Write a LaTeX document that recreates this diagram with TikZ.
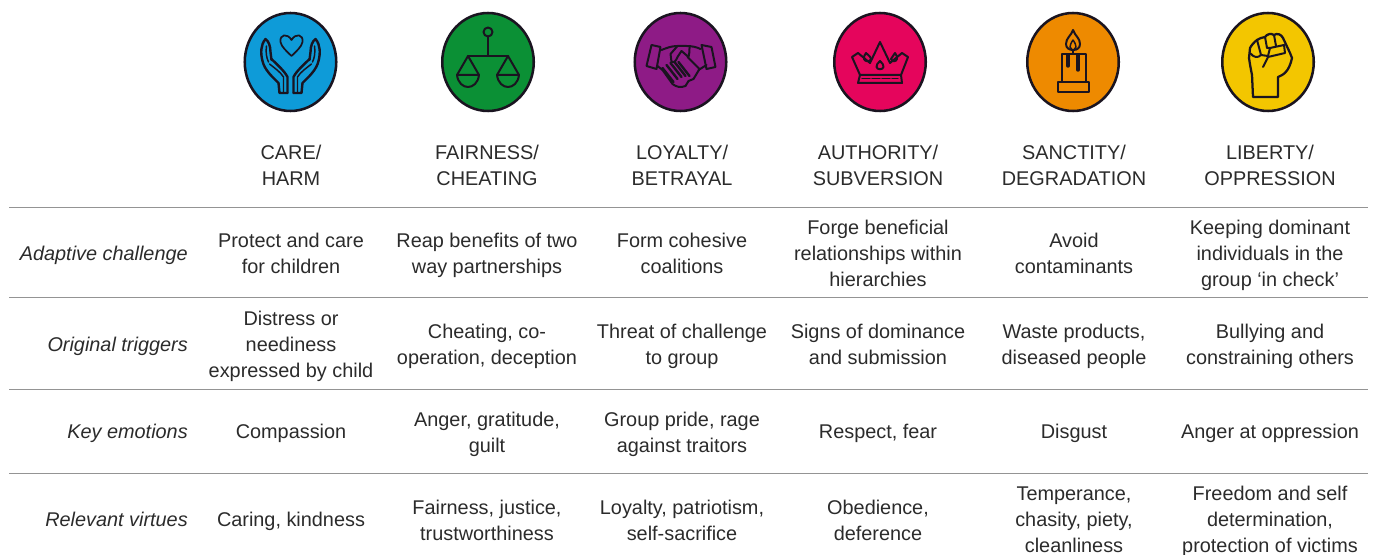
\documentclass[tikz,border=0pt]{standalone}
\usepackage{fontspec}
\setmainfont{Liberation Sans}
\usetikzlibrary{shapes.geometric}
\definecolor{ink}{HTML}{2B2B2B}
\definecolor{rulec}{HTML}{949494}
\definecolor{icon}{HTML}{1A1420}
\definecolor{cblue}{HTML}{0E9BD8}
\definecolor{cgreen}{HTML}{0B9035}
\definecolor{cpurple}{HTML}{8E1B86}
\definecolor{cred}{HTML}{E5055C}
\definecolor{corange}{HTML}{EE8A00}
\definecolor{cyellow}{HTML}{F3C600}
\tikzset{
  badge/.style={ellipse,draw=icon,line width=1.9pt,minimum width=91.5pt*.75,minimum height=98pt*.75,inner sep=0pt},
  ico/.style={draw=icon,line width=1.5pt,line join=round,line cap=round},
  thin ico/.style={draw=icon,line width=1.1pt,line join=round,line cap=round},
  cell/.style={text=ink,align=center,inner sep=0pt,font=\fontsize{14.9}{19.5}\selectfont,yshift=-3pt,
    execute at begin node=\strut,execute at end node=\strut},
  single/.style={cell,yshift=1.5pt},
  rowlab/.style={single,align=right,anchor=east,font=\fontsize{14.9}{19.5}\selectfont\itshape},
  rulel/.style={draw=rulec,line width=1pt}
}
\begin{document}
\begin{tikzpicture}[x=0.75pt,y=-0.75pt]
\useasboundingbox (0,0) rectangle (1376,555);
% badges
\node[badge,fill=cblue]   (b1) at (290.5,62) {};
\node[badge,fill=cgreen]  (b2) at (488,62) {};
\node[badge,fill=cpurple] (b3) at (680.5,62) {};
\node[badge,fill=cred]    (b4) at (880,62) {};
\node[badge,fill=corange] (b5) at (1073,62) {};
\node[badge,fill=cyellow] (b6) at (1268,62) {};
% care
\begin{scope}[shift={(b1.center)}]
\draw[thin ico,line width=1.3pt] (1,-22) .. controls (-3,-29) and (-11,-28) .. (-10,-20) .. controls (-9,-15) and (-4,-11) .. (1,-6) .. controls (6,-11) and (11,-15) .. (12,-20) .. controls (13,-28) and (5,-29) .. (1,-22) -- cycle;
\foreach \s in {1,-1}{
\begin{scope}[xscale=\s]
\draw[ico,line width=1.8pt] (3,31) -- (11,31) -- (12,21) .. controls (18,15) and (26,8) .. (28,-1) .. controls (30,-9) and (30,-17) .. (25,-23) .. controls (22,-21) and (20,-16) .. (20,-10) -- (19,-2);
\draw[ico,line width=1.8pt] (3,31) -- (3,15) .. controls (6,9) and (13,3) .. (19,-3);
\draw[thin ico] (7,31) -- (7,15) .. controls (10,10) and (16,6) .. (21,2);
\draw[thin ico] (24,-16) .. controls (25,-10) and (24,-4) .. (22,0);
\end{scope}}
\end{scope}
% fairness
\begin{scope}[shift={(b2.center)}]
\draw[ico] (0,-30) circle[radius=4.5];
\draw[ico] (0,-25.5) -- (0,-6);
\draw[ico] (-20,-6) -- (20,-6);
\foreach \c in {-20,20}{
\draw[ico] (\c-11,13) -- (\c,-6) -- (\c+11,13);
\draw[ico] (\c-11,13) -- (\c+11,13) .. controls (\c+10,21) and (\c+5,25) .. (\c,25) .. controls (\c-5,25) and (\c-10,21) .. (\c-11,13) -- cycle;
}
\end{scope}
% loyalty
\begin{scope}[shift={(b3.center)}]
\draw[ico] (-29,-17) -- (-20,-15) -- (-24,7) -- (-34,4) -- cycle;
\draw[ico] (21,-17) -- (31,-15) -- (35,5) -- (26,7) -- cycle;
\draw[ico] (-19,-12) .. controls (-14,-14) and (-9,-16) .. (-3,-16) -- (6,-16) .. controls (11,-16) and (16,-15) .. (20,-13);
\draw[ico] (-3,-16) -- (-10,-8) -- (-9,0) .. controls (-7,1) and (-5,0) .. (-3,-5) -- (1,-11) -- (8,-5) .. controls (9,-8) and (9,-11) .. (9,-16);
\draw[ico] (-23,4) -- (-18,8);
\draw[ico] (26,3) -- (18,8);
\draw[ico] (7,-5) -- (19,7) -- (13,17) -- (8,19) -- (5,24) .. controls (0,26) and (-4,25) .. (-8,22) -- (-18,8);
\foreach \a/\b in {-18/6,-14/3,-10/1,-6/0,-2/0}{
\draw[ico,line width=1.8pt] (\a,\b) -- (\a+11,\b+14);
}
\end{scope}
% authority
\begin{scope}[shift={(b4.center)}]
\draw[ico] (-28,-5) -- (-22,-9) -- (-10,1) -- (0,-20) -- (10,1) -- (22,-9) -- (28,-5) -- (21,13) -- (-20,13) -- cycle;
\draw[ico] (-20,13) -- (-22,21) -- (22,21) -- (21,13);
\draw[thin ico,dashed,dash pattern=on 6pt off 1.5pt] (-18,16.5) -- (18,16.5);
\draw[ico] (0,-1) .. controls (2,1) and (4,3) .. (3.5,5) .. controls (3,8) and (-3,8) .. (-3.5,5) .. controls (-4,3) and (-2,1) .. (0,-1) -- cycle;
\draw[ico] (-14,-9) .. controls (-12,-7) and (-9,-5) .. (-9,-3) .. controls (-10,0) and (-15,0) .. (-16,-3) .. controls (-17,-5) and (-15,-7) .. (-14,-9) -- cycle;
\draw[ico] (15,-9) .. controls (14,-7) and (12,-5) .. (11,-3) .. controls (12,0) and (16,0) .. (17,-3) .. controls (18,-5) and (16,-7) .. (15,-9) -- cycle;
\end{scope}
% sanctity
\begin{scope}[shift={(b5.center)}]
\draw[ico] (0,-32) .. controls (-2,-26) and (-7,-24) .. (-7,-18) .. controls (-7,-14) and (-4,-12) .. (0,-12) .. controls (4,-12) and (7,-14) .. (7,-18) .. controls (7,-24) and (2,-26) .. (0,-32) -- cycle;
\draw[thin ico] (0,-22) .. controls (-2,-19) and (-3,-17) .. (-3,-15) -- (0,-11) -- (3,-15) .. controls (3,-17) and (2,-19) .. (0,-22) -- cycle;
\draw[ico] (-11,20) -- (-11,-8) -- (13,-8) -- (13,20);
\draw[thin ico] (0,-11) -- (0,-8);
\draw[ico,line width=2.6pt] (-5,-7) -- (-5,4);
\draw[ico,line width=2.6pt] (5,-7) -- (5,8);
\draw[ico] (-15,20) -- (16,20) -- (16,30) -- (-15,30) -- cycle;
\end{scope}
% liberty
\begin{scope}[shift={(b6.center)}]
\draw[ico,line width=1.7pt] (-15,35) -- (10,35) -- (10,15) .. controls (15,13) and (21,10) .. (24,-4) -- (22,-9) -- (15,-24) .. controls (13,-28) and (9,-29) .. (6,-27) .. controls (3,-29) and (-1,-28) .. (-3,-25) .. controls (-6,-25) and (-9,-23) .. (-11,-22) .. controls (-14,-20) and (-17,-16) .. (-18,-14) -- (-19,-4) .. controls (-18,3) and (-17,8) .. (-16,13) -- cycle;
\draw[ico] (-11,-22) -- (-7,-7) .. controls (-10,-4) and (-14,-4) .. (-18,-9);
\draw[ico] (-3,-25) -- (-1,-14) -- (2,-14);
\draw[ico] (6,-27) -- (8,-16);
\draw[ico] (-7,-7) -- (0,-6) -- (2,-14) -- (16,-17) -- (17,-9) -- (0,-5) -- (-5,5);
\end{scope}
% headers
\node[cell] (h1) at (291,165) {CARE/\\HARM};
\node[cell] (h2) at (487,165) {FAIRNESS/\\CHEATING};
\node[cell] (h3) at (682,165) {LOYALTY/\\BETRAYAL};
\node[cell] (h4) at (878,165) {AUTHORITY/\\SUBVERSION};
\node[cell] (h5) at (1074,165) {SANCTITY/\\DEGRADATION};
\node[cell] (h6) at (1270,165) {LIBERTY/\\OPPRESSION};
% rules
\foreach \n/\y in {r1/207.5,r2/297.5,r3/389.5,r4/473.5}{
\coordinate (\n a) at (9,\y);
\coordinate (\n b) at (1368,\y);
\draw[rulel] (\n a) -- (\n b);
}
% row labels
\node[rowlab] (l1) at (188,253) {Adaptive challenge};
\node[rowlab] (l2) at (188,344) {Original triggers};
\node[rowlab] (l3) at (188,431) {Key emotions};
\node[rowlab] (l4) at (188,519) {Relevant virtues};
% row 1
\node[cell] (a1) at (291,253) {Protect and care\\for children};
\node[cell] (a2) at (487,253) {Reap benefits of two\\way partnerships};
\node[cell] (a3) at (682,253) {Form cohesive\\coalitions};
\node[cell] (a4) at (878,253) {Forge beneficial\\relationships within\\hierarchies};
\node[cell] (a5) at (1074,253) {Avoid\\contaminants};
\node[cell] (a6) at (1270,253) {Keeping dominant\\individuals in the\\group ‘in check’};
% row 2
\node[cell] (t1) at (291,344) {Distress or\\neediness\\expressed by child};
\node[cell] (t2) at (487,344) {Cheating, co-\\operation, deception};
\node[cell] (t3) at (682,344) {Threat of challenge\\to group};
\node[cell] (t4) at (878,344) {Signs of dominance\\and submission};
\node[cell] (t5) at (1074,344) {Waste products,\\diseased people};
\node[cell] (t6) at (1270,344) {Bullying and\\constraining others};
% row 3
\node[single] (e1) at (291,431) {Compassion};
\node[cell] (e2) at (487,432) {Anger, gratitude,\\guilt};
\node[cell] (e3) at (682,432) {Group pride, rage\\against traitors};
\node[single] (e4) at (878,431) {Respect, fear};
\node[single] (e5) at (1074,431) {Disgust};
\node[single] (e6) at (1270,431) {Anger at oppression};
% row 4
\node[single] (v1) at (291,519) {Caring, kindness};
\node[cell] (v2) at (487,520) {Fairness, justice,\\trustworthiness};
\node[cell] (v3) at (682,520) {Loyalty, patriotism,\\self-sacrifice};
\node[cell] (v4) at (878,520) {Obedience,\\deference};
\node[cell] (v5) at (1074,520) {Temperance,\\chasity, piety,\\cleanliness};
\node[cell] (v6) at (1270,519) {Freedom and self\\determination,\\protection of victims};
\end{tikzpicture}
\end{document}
